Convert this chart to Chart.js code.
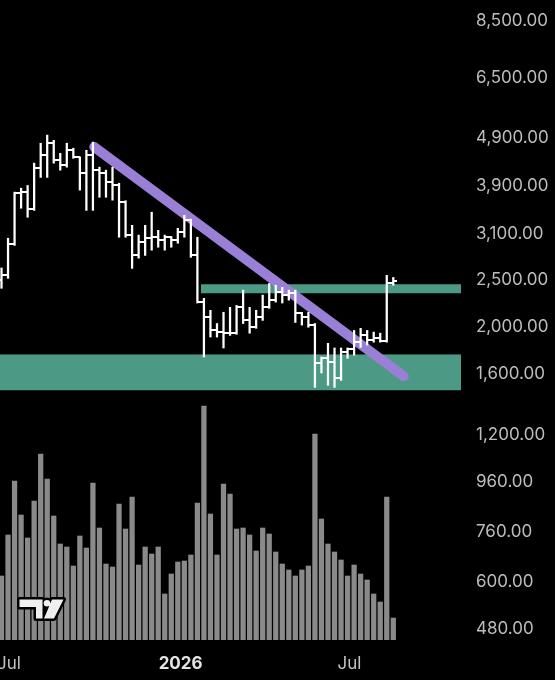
<!DOCTYPE html>
<html>
<head>
<meta charset="utf-8">
<script src="https://cdn.jsdelivr.net/npm/chart.js@4.4.1/dist/chart.umd.min.js"></script>
<style>
  html, body { margin: 0; padding: 0; background: #000; }
  #wrap { width: 555px; height: 680px; position: relative; }
</style>
</head>
<body>
<div id="wrap"><canvas id="c"></canvas></div>
<script>
// ---- data (weekly bars, first week starting 2025-06-23) ----
const firstWeek = '2025-06-23';
const opens  = [2470,2530,2930,3730,3760,3460,4200,4460,4725,4360,4260,4570,4420,4100,4460,4160,4100,3930,3870,3575,
                3060,2780,2960,3015,3030,2985,3030,2985,3100,3285,2780,2230,2075,1950,1935,1925,1925,2175,2045,1980,
                2075,2175,2250,2335,2305,2325,2115,2075,2000,1670,1710,1680,1555,1760,1790,1845,1905,1860,1880,1855,2435];
const highs  = [2620,3015,3750,3820,3870,4300,4725,4910,4790,4505,4725,4615,4430,4570,4750,4220,4160,4220,3910,3600,
                3205,3060,3205,3410,3130,3060,3040,3160,3360,3300,3030,2270,2145,2015,2125,2175,2195,2360,2175,2145,
                2305,2435,2415,2390,2360,2360,2125,2125,2015,1720,1835,1795,1795,1795,1950,1970,1950,1935,1925,2530,2505];
const lows   = [2380,2495,2915,3475,3330,3440,4020,4020,4300,4160,4220,4400,3785,3440,3440,3660,3660,3610,3030,3030,
                2615,2745,2780,2850,2890,2850,2890,2945,3030,2755,2220,1720,1890,1890,1795,1905,1915,2015,1925,1970,
                2045,2165,2230,2220,2250,2025,2000,1980,1490,1595,1505,1490,1540,1710,1735,1800,1820,1845,1845,1845,2415];
const closes = [2530,2930,3730,3760,3460,4200,4460,4725,4360,4260,4570,4420,4100,4460,4160,4100,3930,3870,3575,3060,
                2780,2960,3015,3030,2985,3030,2985,3100,3285,2780,2230,2075,1950,1935,1925,1925,2175,2045,1980,2075,
                2175,2250,2335,2305,2325,2115,2075,2000,1670,1710,1680,1555,1760,1790,1845,1905,1860,1880,1855,2435,2460];
const volumes = [64,105,159,125,102,139,186,161,124,96,93,74,104,92,157,112,76,73,136,111,
                 143,75,93,86,93,46,66,78,79,85,137,234,126,85,156,146,111,112,105,89,
                 112,106,88,76,70,64,70,74,206,121,96,88,80,64,75,66,60,46,38,143,22];
const priceTicks = [8500, 6500, 4900, 3900, 3100, 2500, 2000, 1600, 1200, 960, 760, 600, 480];
const timeTickDates  = ['2025-07-01', '2026-01-01', '2026-07-01'];
const timeTickLabels = ['Jul', '2026', 'Jul'];
// trend line (week index, price)
const trendWeeks  = [14.2, 61.6];
const trendPrices = [4640, 1570];
// horizontal zones (week range, price range)
const zoneWeeks  = [[30.55, 70.37], [-2, 70.37]];
const zonePrices = [[2325, 2426], [1470, 1741]];

// ---- helpers ----
const WEEK_MS = 7 * 24 * 3600 * 1000;
const weekIndex = d => (Date.parse(d) - Date.parse(firstWeek)) / WEEK_MS;
const timeTickValues = timeTickDates.map(weekIndex);

function tickImage(side) {
  const c = document.createElement('canvas');
  c.width = 8; c.height = 2;
  const g = c.getContext('2d');
  g.fillStyle = '#ffffff';
  if (side === 'left') g.fillRect(0, 0, 4, 2); else g.fillRect(4, 0, 4, 2);
  return c;
}

const zonesPlugin = {
  id: 'zones',
  beforeDatasetsDraw(chart) {
    const { ctx, chartArea, scales } = chart;
    ctx.save();
    ctx.beginPath();
    ctx.rect(chartArea.left, chartArea.top, chartArea.right - chartArea.left, chartArea.bottom - chartArea.top);
    ctx.clip();
    ctx.fillStyle = '#4c9a86';
    zoneWeeks.forEach((wk, i) => {
      const x1 = scales.x.getPixelForValue(wk[0]);
      const x2 = scales.x.getPixelForValue(wk[1]);
      const y1 = scales.y.getPixelForValue(zonePrices[i][1]);
      const y2 = scales.y.getPixelForValue(zonePrices[i][0]);
      ctx.fillRect(x1, y1, x2 - x1, y2 - y1);
    });
    ctx.restore();
  }
};

const bgPlugin = {
  id: 'bg',
  beforeDraw(chart) {
    const ctx = chart.ctx;
    ctx.save();
    ctx.fillStyle = '#000';
    ctx.fillRect(0, 0, chart.width, chart.height);
    ctx.restore();
  }
};

const logoPlugin = {
  id: 'logo',
  afterDatasetsDraw(chart) {
    const ctx = chart.ctx;
    ctx.save();
    ctx.lineJoin = 'round';
    ctx.strokeStyle = '#000';
    ctx.lineWidth = 5;
    ctx.fillStyle = '#f0f0f0';
    ctx.beginPath();
    ctx.moveTo(19.5, 599.5); ctx.lineTo(42.5, 599.5); ctx.lineTo(42.5, 618.5);
    ctx.lineTo(36, 618.5); ctx.lineTo(36, 607); ctx.lineTo(19.5, 607); ctx.closePath();
    ctx.moveTo(50.3, 603.3); ctx.arc(47, 603.3, 3.3, 0, Math.PI * 2);
    ctx.moveTo(52, 599.5); ctx.lineTo(63.5, 599.5); ctx.lineTo(54, 618.5); ctx.lineTo(44, 618.5); ctx.closePath();
    ctx.stroke();
    ctx.fill();
    ctx.restore();
  }
};

const fmt = v => Number(v).toLocaleString('en-US', { minimumFractionDigits: 2, maximumFractionDigits: 2 });

new Chart(document.getElementById('c'), {
  type: 'bar',
  data: {
    datasets: [
      {
        label: 'Volume',
        type: 'bar',
        yAxisID: 'yVol',
        data: volumes.map((v, i) => ({ x: i, y: v })),
        backgroundColor: '#8a8a8a',
        barThickness: 4.6,
        grouped: false,
        order: 5
      },
      {
        label: 'Trend',
        type: 'line',
        yAxisID: 'y',
        data: trendWeeks.map((w, i) => ({ x: w, y: trendPrices[i] })),
        borderColor: '#9a7fd6',
        borderWidth: 10,
        borderCapStyle: 'round',
        pointRadius: 0,
        order: 4
      },
      {
        label: 'Range',
        type: 'bar',
        yAxisID: 'y',
        data: highs.map((h, i) => ({ x: i, y: [lows[i], h] })),
        backgroundColor: '#ffffff',
        barThickness: 1.6,
        grouped: false,
        order: 2
      },
      {
        label: 'Open',
        type: 'line',
        yAxisID: 'y',
        showLine: false,
        data: opens.map((o, i) => ({ x: i, y: o })),
        pointStyle: tickImage('left'),
        pointRadius: 3,
        order: 1
      },
      {
        label: 'Close',
        type: 'line',
        yAxisID: 'y',
        showLine: false,
        data: closes.map((c, i) => ({ x: i, y: c })),
        pointStyle: tickImage('right'),
        pointRadius: 3,
        order: 1
      }
    ]
  },
  options: {
    responsive: true,
    maintainAspectRatio: false,
    animation: false,
    layout: { padding: 0, autoPadding: false },
    plugins: { legend: { display: false }, tooltip: { enabled: false } },
    scales: {
      x: {
        type: 'linear',
        min: -0.23,
        max: 70.83,
        offset: false,
        grid: { display: false, drawTicks: false },
        border: { display: false },
        afterBuildTicks: s => { s.ticks = timeTickValues.map(v => ({ value: v })); },
        afterFit: s => { s.height = 40; s.paddingLeft = 0; s.paddingRight = 0; },
        ticks: {
          autoSkip: false,
          maxRotation: 0,
          padding: 14,
          callback: (v, i) => timeTickLabels[i],
          color: c => (timeTickLabels[c.index] === '2026' ? '#e4e4e4' : '#c2c2c2'),
          font: c => ({ family: 'Inter', size: 17, weight: timeTickLabels[c.index] === '2026' ? 'bold' : 'normal' })
        }
      },
      y: {
        type: 'logarithmic',
        position: 'right',
        min: 451.4,
        max: 9299,
        bounds: 'data',
        grid: { display: false, drawTicks: false },
        border: { display: false },
        afterBuildTicks: s => { s.ticks = priceTicks.map(v => ({ value: v })); },
        afterFit: s => { s.width = 91; s.paddingTop = 0; s.paddingBottom = 0; },
        ticks: {
          padding: 12,
          labelOffset: 2,
          color: '#bdbdbd',
          font: { family: 'Inter', size: 17 },
          callback: v => fmt(v)
        }
      },
      yVol: {
        type: 'linear',
        display: false,
        min: 0,
        max: 640
      }
    }
  },
  plugins: [bgPlugin, zonesPlugin, logoPlugin]
});
</script>
</body>
</html>
